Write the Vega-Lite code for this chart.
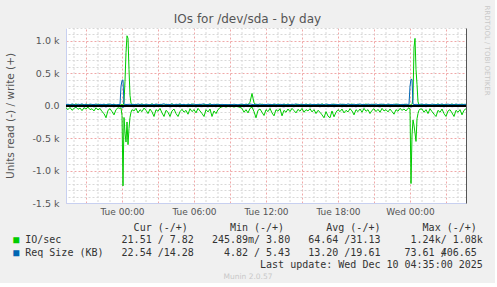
{
  "$schema": "https://vega.github.io/schema/vega-lite/v6.json",
  "background": "#f0f0f0",
  "padding": {"left": 5, "top": 5, "right": 5, "bottom": 0},
  "title": {"text": "IOs for /dev/sda - by day", "font": "DejaVu Sans", "fontSize": 12, "fontWeight": "normal", "color": "#555555", "anchor": "middle", "frame": "bounds", "offset": -21},
  "config": {"view": {"stroke": null}, "font": "DejaVu Sans"},
  "spacing": 6,
  "vconcat": [
    {
      "width": 400,
      "height": 175,
      "view": {"fill": "#ffffff", "stroke": null},
      "data": {"values": [
        {"t":"2025-12-08T19:20","ior":-30,"iow":12,"rsr":-8,"rsw":18},
        {"t":"2025-12-08T19:30","ior":-60,"iow":20,"rsr":-12,"rsw":24},
        {"t":"2025-12-08T19:40","ior":-25,"iow":8,"rsr":-6,"rsw":15},
        {"t":"2025-12-08T19:50","ior":-70,"iow":25,"rsr":-15,"rsw":27},
        {"t":"2025-12-08T20:00","ior":-40,"iow":15,"rsr":-10,"rsw":20},
        {"t":"2025-12-08T20:10","ior":-20,"iow":30,"rsr":-18,"rsw":13},
        {"t":"2025-12-08T20:20","ior":-55,"iow":10,"rsr":-7,"rsw":25},
        {"t":"2025-12-08T20:30","ior":-35,"iow":18,"rsr":-13,"rsw":19},
        {"t":"2025-12-08T20:40","ior":-75,"iow":22,"rsr":-9,"rsw":29},
        {"t":"2025-12-08T20:50","ior":-30,"iow":6,"rsr":-16,"rsw":16},
        {"t":"2025-12-08T21:00","ior":-50,"iow":28,"rsr":-11,"rsw":22},
        {"t":"2025-12-08T21:10","ior":-20,"iow":14,"rsr":-5,"rsw":14},
        {"t":"2025-12-08T21:20","ior":-60,"iow":19,"rsr":-14,"rsw":26},
        {"t":"2025-12-08T21:30","ior":-45,"iow":9,"rsr":-8,"rsw":21},
        {"t":"2025-12-08T21:40","ior":-80,"iow":24,"rsr":-17,"rsw":17},
        {"t":"2025-12-08T21:50","ior":-30,"iow":11,"rsr":-10,"rsw":28},
        {"t":"2025-12-08T22:00","ior":-65,"iow":27,"rsr":-6,"rsw":15},
        {"t":"2025-12-08T22:10","ior":-40,"iow":16,"rsr":-12,"rsw":23},
        {"t":"2025-12-08T22:20","ior":-90,"iow":7,"rsr":-15,"rsw":19},
        {"t":"2025-12-08T22:30","ior":-120,"iow":21,"rsr":-9,"rsw":25},
        {"t":"2025-12-08T22:40","ior":-185,"iow":13,"rsr":-19,"rsw":16},
        {"t":"2025-12-08T22:50","ior":-70,"iow":26,"rsr":-7,"rsw":22},
        {"t":"2025-12-08T23:00","ior":-45,"iow":10,"rsr":-13,"rsw":27},
        {"t":"2025-12-08T23:10","ior":-90,"iow":18,"rsr":-10,"rsw":18},
        {"t":"2025-12-08T23:20","ior":-140,"iow":23,"rsr":-16,"rsw":24},
        {"t":"2025-12-08T23:30","ior":-60,"iow":8,"rsr":-8,"rsw":14},
        {"t":"2025-12-08T23:40","ior":-30,"iow":15,"rsr":-12,"rsw":20},
        {"t":"2025-12-08T23:50","ior":-40,"iow":10,"rsr":-9,"rsw":20},
        {"t":"2025-12-08T23:55","ior":-30,"iow":15,"rsr":-12,"rsw":300},
        {"t":"2025-12-09T00:00","ior":-150,"iow":20,"rsr":-20,"rsw":390},
        {"t":"2025-12-09T00:05","ior":-1236,"iow":10,"rsr":-25,"rsw":400},
        {"t":"2025-12-09T00:10","ior":-180,"iow":60,"rsr":-15,"rsw":25},
        {"t":"2025-12-09T00:15","ior":-420,"iow":380,"rsr":-10,"rsw":20},
        {"t":"2025-12-09T00:20","ior":-560,"iow":820,"rsr":-14,"rsw":22},
        {"t":"2025-12-09T00:25","ior":-250,"iow":1080,"rsr":-8,"rsw":18},
        {"t":"2025-12-09T00:30","ior":-600,"iow":1040,"rsr":-12,"rsw":24},
        {"t":"2025-12-09T00:35","ior":-350,"iow":560,"rsr":-9,"rsw":19},
        {"t":"2025-12-09T00:40","ior":-180,"iow":160,"rsr":-13,"rsw":26},
        {"t":"2025-12-09T00:45","ior":-100,"iow":40,"rsr":-7,"rsw":17},
        {"t":"2025-12-09T00:50","ior":-60,"iow":20,"rsr":-11,"rsw":23},
        {"t":"2025-12-09T01:00","ior":-80,"iow":14,"rsr":-15,"rsw":21},
        {"t":"2025-12-09T01:10","ior":-40,"iow":25,"rsr":-8,"rsw":16},
        {"t":"2025-12-09T01:20","ior":-110,"iow":9,"rsr":-12,"rsw":28},
        {"t":"2025-12-09T01:30","ior":-60,"iow":19,"rsr":-6,"rsw":19},
        {"t":"2025-12-09T01:40","ior":-90,"iow":27,"rsr":-14,"rsw":24},
        {"t":"2025-12-09T01:50","ior":-35,"iow":12,"rsr":-10,"rsw":15},
        {"t":"2025-12-09T02:00","ior":-70,"iow":22,"rsr":-17,"rsw":26},
        {"t":"2025-12-09T02:10","ior":-120,"iow":8,"rsr":-9,"rsw":20},
        {"t":"2025-12-09T02:20","ior":-50,"iow":17,"rsr":-13,"rsw":14},
        {"t":"2025-12-09T02:30","ior":-95,"iow":29,"rsr":-7,"rsw":25},
        {"t":"2025-12-09T02:40","ior":-165,"iow":13,"rsr":-16,"rsw":18},
        {"t":"2025-12-09T02:50","ior":-60,"iow":21,"rsr":-10,"rsw":27},
        {"t":"2025-12-09T03:00","ior":-85,"iow":10,"rsr":-12,"rsw":21},
        {"t":"2025-12-09T03:10","ior":-40,"iow":24,"rsr":-6,"rsw":16},
        {"t":"2025-12-09T03:20","ior":-110,"iow":15,"rsr":-15,"rsw":23},
        {"t":"2025-12-09T03:30","ior":-165,"iow":7,"rsr":-9,"rsw":30},
        {"t":"2025-12-09T03:40","ior":-70,"iow":26,"rsr":-13,"rsw":17},
        {"t":"2025-12-09T03:50","ior":-100,"iow":12,"rsr":-8,"rsw":22},
        {"t":"2025-12-09T04:00","ior":-165,"iow":18,"rsr":-18,"rsw":19},
        {"t":"2025-12-09T04:10","ior":-80,"iow":30,"rsr":-11,"rsw":26},
        {"t":"2025-12-09T04:20","ior":-50,"iow":9,"rsr":-7,"rsw":15},
        {"t":"2025-12-09T04:30","ior":-120,"iow":20,"rsr":-14,"rsw":24},
        {"t":"2025-12-09T04:40","ior":-165,"iow":14,"rsr":-10,"rsw":20},
        {"t":"2025-12-09T04:50","ior":-90,"iow":25,"rsr":-16,"rsw":28},
        {"t":"2025-12-09T05:00","ior":-55,"iow":11,"rsr":-8,"rsw":17},
        {"t":"2025-12-09T05:10","ior":-100,"iow":19,"rsr":-12,"rsw":23},
        {"t":"2025-12-09T05:20","ior":-70,"iow":8,"rsr":-9,"rsw":14},
        {"t":"2025-12-09T05:30","ior":-130,"iow":23,"rsr":-15,"rsw":25},
        {"t":"2025-12-09T05:40","ior":-45,"iow":16,"rsr":-6,"rsw":19},
        {"t":"2025-12-09T05:50","ior":-90,"iow":28,"rsr":-13,"rsw":21},
        {"t":"2025-12-09T06:00","ior":-60,"iow":10,"rsr":-10,"rsw":27},
        {"t":"2025-12-09T06:10","ior":-110,"iow":21,"rsr":-17,"rsw":16},
        {"t":"2025-12-09T06:20","ior":-40,"iow":13,"rsr":-8,"rsw":22},
        {"t":"2025-12-09T06:30","ior":-80,"iow":26,"rsr":-12,"rsw":18},
        {"t":"2025-12-09T06:40","ior":-120,"iow":9,"rsr":-14,"rsw":24},
        {"t":"2025-12-09T06:50","ior":-165,"iow":17,"rsr":-9,"rsw":29},
        {"t":"2025-12-09T07:00","ior":-60,"iow":22,"rsr":-11,"rsw":15},
        {"t":"2025-12-09T07:10","ior":-95,"iow":12,"rsr":-16,"rsw":20},
        {"t":"2025-12-09T07:20","ior":-50,"iow":29,"rsr":-7,"rsw":26},
        {"t":"2025-12-09T07:30","ior":-165,"iow":15,"rsr":-13,"rsw":17},
        {"t":"2025-12-09T07:40","ior":-80,"iow":8,"rsr":-10,"rsw":23},
        {"t":"2025-12-09T07:50","ior":-120,"iow":24,"rsr":-15,"rsw":19},
        {"t":"2025-12-09T08:00","ior":-60,"iow":14,"rsr":-8,"rsw":25},
        {"t":"2025-12-09T08:10","ior":-30,"iow":19,"rsr":-12,"rsw":16},
        {"t":"2025-12-09T08:20","ior":-15,"iow":10,"rsr":-6,"rsw":22},
        {"t":"2025-12-09T08:30","ior":-10,"iow":16,"rsr":-9,"rsw":18},
        {"t":"2025-12-09T08:40","ior":-20,"iow":12,"rsr":-7,"rsw":20},
        {"t":"2025-12-09T08:50","ior":-10,"iow":18,"rsr":-10,"rsw":15},
        {"t":"2025-12-09T09:00","ior":-15,"iow":9,"rsr":-6,"rsw":21},
        {"t":"2025-12-09T09:10","ior":-10,"iow":14,"rsr":-8,"rsw":17},
        {"t":"2025-12-09T09:20","ior":-20,"iow":11,"rsr":-11,"rsw":24},
        {"t":"2025-12-09T09:30","ior":-10,"iow":17,"rsr":-7,"rsw":19},
        {"t":"2025-12-09T09:40","ior":-15,"iow":8,"rsr":-9,"rsw":16},
        {"t":"2025-12-09T09:50","ior":-25,"iow":15,"rsr":-12,"rsw":22},
        {"t":"2025-12-09T10:00","ior":-40,"iow":20,"rsr":-10,"rsw":26},
        {"t":"2025-12-09T10:10","ior":-100,"iow":12,"rsr":-15,"rsw":18},
        {"t":"2025-12-09T10:20","ior":-60,"iow":25,"rsr":-8,"rsw":23},
        {"t":"2025-12-09T10:30","ior":-110,"iow":14,"rsr":-13,"rsw":20},
        {"t":"2025-12-09T10:40","ior":-40,"iow":55,"rsr":-9,"rsw":27},
        {"t":"2025-12-09T10:50","ior":-20,"iow":190,"rsr":-11,"rsw":21},
        {"t":"2025-12-09T11:00","ior":-90,"iow":45,"rsr":-14,"rsw":17},
        {"t":"2025-12-09T11:10","ior":-185,"iow":16,"rsr":-8,"rsw":24},
        {"t":"2025-12-09T11:20","ior":-70,"iow":22,"rsr":-16,"rsw":19},
        {"t":"2025-12-09T11:30","ior":-50,"iow":10,"rsr":-10,"rsw":28},
        {"t":"2025-12-09T11:40","ior":-100,"iow":27,"rsr":-12,"rsw":15},
        {"t":"2025-12-09T11:50","ior":-150,"iow":13,"rsr":-7,"rsw":22},
        {"t":"2025-12-09T12:00","ior":-60,"iow":19,"rsr":-13,"rsw":18},
        {"t":"2025-12-09T12:10","ior":-90,"iow":8,"rsr":-9,"rsw":25},
        {"t":"2025-12-09T12:20","ior":-40,"iow":24,"rsr":-15,"rsw":20},
        {"t":"2025-12-09T12:30","ior":-110,"iow":15,"rsr":-11,"rsw":16},
        {"t":"2025-12-09T12:40","ior":-155,"iow":21,"rsr":-8,"rsw":27},
        {"t":"2025-12-09T12:50","ior":-60,"iow":11,"rsr":-14,"rsw":21},
        {"t":"2025-12-09T13:00","ior":-85,"iow":28,"rsr":-10,"rsw":17},
        {"t":"2025-12-09T13:10","ior":-45,"iow":14,"rsr":-6,"rsw":23},
        {"t":"2025-12-09T13:20","ior":-155,"iow":9,"rsr":-12,"rsw":19},
        {"t":"2025-12-09T13:30","ior":-70,"iow":23,"rsr":-16,"rsw":26},
        {"t":"2025-12-09T13:40","ior":-100,"iow":17,"rsr":-9,"rsw":14},
        {"t":"2025-12-09T13:50","ior":-50,"iow":26,"rsr":-13,"rsw":22},
        {"t":"2025-12-09T14:00","ior":-90,"iow":12,"rsr":-8,"rsw":18},
        {"t":"2025-12-09T14:10","ior":-40,"iow":20,"rsr":-11,"rsw":24},
        {"t":"2025-12-09T14:20","ior":-75,"iow":7,"rsr":-15,"rsw":20},
        {"t":"2025-12-09T14:30","ior":-110,"iow":18,"rsr":-7,"rsw":29},
        {"t":"2025-12-09T14:40","ior":-55,"iow":25,"rsr":-12,"rsw":16},
        {"t":"2025-12-09T14:50","ior":-85,"iow":13,"rsr":-10,"rsw":21},
        {"t":"2025-12-09T15:00","ior":-40,"iow":22,"rsr":-14,"rsw":25},
        {"t":"2025-12-09T15:10","ior":-100,"iow":10,"rsr":-8,"rsw":18},
        {"t":"2025-12-09T15:20","ior":-60,"iow":27,"rsr":-13,"rsw":23},
        {"t":"2025-12-09T15:30","ior":-80,"iow":15,"rsr":-9,"rsw":15},
        {"t":"2025-12-09T15:40","ior":-45,"iow":19,"rsr":-16,"rsw":27},
        {"t":"2025-12-09T15:50","ior":-95,"iow":8,"rsr":-11,"rsw":19},
        {"t":"2025-12-09T16:00","ior":-60,"iow":24,"rsr":-7,"rsw":22},
        {"t":"2025-12-09T16:10","ior":-120,"iow":14,"rsr":-12,"rsw":17},
        {"t":"2025-12-09T16:20","ior":-70,"iow":21,"rsr":-10,"rsw":26},
        {"t":"2025-12-09T16:30","ior":-100,"iow":11,"rsr":-15,"rsw":20},
        {"t":"2025-12-09T16:40","ior":-140,"iow":29,"rsr":-8,"rsw":24},
        {"t":"2025-12-09T16:50","ior":-185,"iow":16,"rsr":-13,"rsw":16},
        {"t":"2025-12-09T17:00","ior":-90,"iow":12,"rsr":-9,"rsw":28},
        {"t":"2025-12-09T17:10","ior":-160,"iow":23,"rsr":-14,"rsw":21},
        {"t":"2025-12-09T17:20","ior":-185,"iow":9,"rsr":-11,"rsw":18},
        {"t":"2025-12-09T17:30","ior":-80,"iow":18,"rsr":-7,"rsw":25},
        {"t":"2025-12-09T17:40","ior":-170,"iow":26,"rsr":-16,"rsw":19},
        {"t":"2025-12-09T17:50","ior":-100,"iow":13,"rsr":-10,"rsw":23},
        {"t":"2025-12-09T18:00","ior":-60,"iow":20,"rsr":-12,"rsw":15},
        {"t":"2025-12-09T18:10","ior":-90,"iow":10,"rsr":-8,"rsw":26},
        {"t":"2025-12-09T18:20","ior":-50,"iow":25,"rsr":-15,"rsw":20},
        {"t":"2025-12-09T18:30","ior":-110,"iow":15,"rsr":-9,"rsw":24},
        {"t":"2025-12-09T18:40","ior":-70,"iow":22,"rsr":-13,"rsw":17},
        {"t":"2025-12-09T18:50","ior":-95,"iow":8,"rsr":-11,"rsw":29},
        {"t":"2025-12-09T19:00","ior":-45,"iow":19,"rsr":-7,"rsw":21},
        {"t":"2025-12-09T19:10","ior":-80,"iow":27,"rsr":-14,"rsw":18},
        {"t":"2025-12-09T19:20","ior":-140,"iow":12,"rsr":-10,"rsw":25},
        {"t":"2025-12-09T19:30","ior":-60,"iow":17,"rsr":-16,"rsw":16},
        {"t":"2025-12-09T19:40","ior":-90,"iow":24,"rsr":-8,"rsw":22},
        {"t":"2025-12-09T19:50","ior":-50,"iow":9,"rsr":-12,"rsw":27},
        {"t":"2025-12-09T20:00","ior":-100,"iow":21,"rsr":-9,"rsw":19},
        {"t":"2025-12-09T20:10","ior":-40,"iow":14,"rsr":-15,"rsw":23},
        {"t":"2025-12-09T20:20","ior":-85,"iow":28,"rsr":-11,"rsw":15},
        {"t":"2025-12-09T20:30","ior":-60,"iow":11,"rsr":-7,"rsw":26},
        {"t":"2025-12-09T20:40","ior":-120,"iow":20,"rsr":-13,"rsw":20},
        {"t":"2025-12-09T20:50","ior":-70,"iow":16,"rsr":-10,"rsw":24},
        {"t":"2025-12-09T21:00","ior":-45,"iow":25,"rsr":-14,"rsw":18},
        {"t":"2025-12-09T21:10","ior":-90,"iow":10,"rsr":-8,"rsw":28},
        {"t":"2025-12-09T21:20","ior":-55,"iow":18,"rsr":-12,"rsw":17},
        {"t":"2025-12-09T21:30","ior":-100,"iow":23,"rsr":-16,"rsw":22},
        {"t":"2025-12-09T21:40","ior":-40,"iow":13,"rsr":-9,"rsw":25},
        {"t":"2025-12-09T21:50","ior":-80,"iow":26,"rsr":-11,"rsw":19},
        {"t":"2025-12-09T22:00","ior":-60,"iow":8,"rsr":-13,"rsw":16},
        {"t":"2025-12-09T22:10","ior":-95,"iow":19,"rsr":-7,"rsw":27},
        {"t":"2025-12-09T22:20","ior":-50,"iow":15,"rsr":-15,"rsw":21},
        {"t":"2025-12-09T22:30","ior":-90,"iow":22,"rsr":-10,"rsw":18},
        {"t":"2025-12-09T22:40","ior":-130,"iow":12,"rsr":-12,"rsw":24},
        {"t":"2025-12-09T22:50","ior":-60,"iow":27,"rsr":-8,"rsw":20},
        {"t":"2025-12-09T23:00","ior":-85,"iow":14,"rsr":-14,"rsw":26},
        {"t":"2025-12-09T23:10","ior":-40,"iow":20,"rsr":-9,"rsw":15},
        {"t":"2025-12-09T23:20","ior":-70,"iow":10,"rsr":-11,"rsw":22},
        {"t":"2025-12-09T23:30","ior":-50,"iow":24,"rsr":-16,"rsw":19},
        {"t":"2025-12-09T23:40","ior":-80,"iow":16,"rsr":-10,"rsw":25},
        {"t":"2025-12-09T23:50","ior":-40,"iow":10,"rsr":-12,"rsw":20},
        {"t":"2025-12-09T23:55","ior":-30,"iow":10,"rsr":-9,"rsw":22},
        {"t":"2025-12-10T00:00","ior":-60,"iow":15,"rsr":-15,"rsw":300},
        {"t":"2025-12-10T00:05","ior":-1200,"iow":10,"rsr":-20,"rsw":410},
        {"t":"2025-12-10T00:10","ior":-450,"iow":20,"rsr":-14,"rsw":405},
        {"t":"2025-12-10T00:15","ior":-220,"iow":120,"rsr":-10,"rsw":25},
        {"t":"2025-12-10T00:20","ior":-300,"iow":900,"rsr":-13,"rsw":21},
        {"t":"2025-12-10T00:25","ior":-420,"iow":1040,"rsr":-8,"rsw":18},
        {"t":"2025-12-10T00:30","ior":-550,"iow":560,"rsr":-12,"rsw":24},
        {"t":"2025-12-10T00:35","ior":-200,"iow":330,"rsr":-9,"rsw":19},
        {"t":"2025-12-10T00:40","ior":-120,"iow":60,"rsr":-14,"rsw":23},
        {"t":"2025-12-10T00:45","ior":-70,"iow":20,"rsr":-11,"rsw":16},
        {"t":"2025-12-10T00:50","ior":-50,"iow":15,"rsr":-8,"rsw":22},
        {"t":"2025-12-10T01:00","ior":-50,"iow":21,"rsr":-13,"rsw":27},
        {"t":"2025-12-10T01:10","ior":-100,"iow":12,"rsr":-10,"rsw":18},
        {"t":"2025-12-10T01:20","ior":-60,"iow":25,"rsr":-15,"rsw":24},
        {"t":"2025-12-10T01:30","ior":-120,"iow":14,"rsr":-8,"rsw":20},
        {"t":"2025-12-10T01:40","ior":-45,"iow":19,"rsr":-12,"rsw":15},
        {"t":"2025-12-10T01:50","ior":-90,"iow":9,"rsr":-9,"rsw":26},
        {"t":"2025-12-10T02:00","ior":-130,"iow":23,"rsr":-14,"rsw":21},
        {"t":"2025-12-10T02:10","ior":-165,"iow":16,"rsr":-11,"rsw":17},
        {"t":"2025-12-10T02:20","ior":-70,"iow":28,"rsr":-7,"rsw":23},
        {"t":"2025-12-10T02:30","ior":-100,"iow":11,"rsr":-13,"rsw":19},
        {"t":"2025-12-10T02:40","ior":-50,"iow":20,"rsr":-10,"rsw":28},
        {"t":"2025-12-10T02:50","ior":-120,"iow":15,"rsr":-16,"rsw":16},
        {"t":"2025-12-10T03:00","ior":-165,"iow":24,"rsr":-9,"rsw":22},
        {"t":"2025-12-10T03:10","ior":-80,"iow":8,"rsr":-12,"rsw":25},
        {"t":"2025-12-10T03:20","ior":-60,"iow":18,"rsr":-8,"rsw":19},
        {"t":"2025-12-10T03:30","ior":-110,"iow":26,"rsr":-14,"rsw":24},
        {"t":"2025-12-10T03:40","ior":-165,"iow":13,"rsr":-11,"rsw":17},
        {"t":"2025-12-10T03:50","ior":-70,"iow":21,"rsr":-10,"rsw":27},
        {"t":"2025-12-10T04:00","ior":-100,"iow":10,"rsr":-15,"rsw":20},
        {"t":"2025-12-10T04:10","ior":-60,"iow":17,"rsr":-8,"rsw":23},
        {"t":"2025-12-10T04:20","ior":-140,"iow":27,"rsr":-12,"rsw":18},
        {"t":"2025-12-10T04:30","ior":-70,"iow":14,"rsr":-9,"rsw":22},
        {"t":"2025-12-10T04:40","ior":-45,"iow":21,"rsr":-13,"rsw":23}
      ]},
      "layer": [
        {
          "layer": [
            {
              "data": {"values": [
                {"t": "2025-12-08T20:00"}, {"t": "2025-12-08T22:00"}, {"t": "2025-12-08T23:00"},
                {"t": "2025-12-09T01:00"}, {"t": "2025-12-09T02:00"}, {"t": "2025-12-09T04:00"}, {"t": "2025-12-09T05:00"},
                {"t": "2025-12-09T07:00"}, {"t": "2025-12-09T08:00"}, {"t": "2025-12-09T10:00"}, {"t": "2025-12-09T11:00"},
                {"t": "2025-12-09T13:00"}, {"t": "2025-12-09T14:00"}, {"t": "2025-12-09T16:00"}, {"t": "2025-12-09T17:00"},
                {"t": "2025-12-09T19:00"}, {"t": "2025-12-09T20:00"}, {"t": "2025-12-09T22:00"}, {"t": "2025-12-09T23:00"},
                {"t": "2025-12-10T01:00"}, {"t": "2025-12-10T02:00"}, {"t": "2025-12-10T04:00"}
              ]},
              "mark": {"type": "rule", "color": "#d8d8d8", "strokeWidth": 1, "strokeDash": [2, 2]},
              "encoding": {"x": {"field": "t", "type": "temporal"}}
            },
            {
              "mark": {"type": "line", "color": "#00cc00", "strokeWidth": 1},
              "encoding": {
                "x": {"field": "t", "type": "temporal", "title": null,
                  "scale": {"domain": [{"year": 2025, "month": 12, "date": 8, "hours": 19, "minutes": 20}, {"year": 2025, "month": 12, "date": 10, "hours": 4, "minutes": 40}]},
                  "axis": {"orient": "bottom",
                    "values": [{"year": 2025, "month": 12, "date": 9, "hours": 0}, {"year": 2025, "month": 12, "date": 9, "hours": 6}, {"year": 2025, "month": 12, "date": 9, "hours": 12}, {"year": 2025, "month": 12, "date": 9, "hours": 18}, {"year": 2025, "month": 12, "date": 10, "hours": 0}],
                    "format": "%a %H:%M", "labelFlush": false, "labelFont": "DejaVu Sans", "labelFontSize": 9, "labelColor": "#555555", "labelPadding": 4,
                    "ticks": false, "domainColor": "#c8d0f0", "grid": true, "gridColor": "#f0a8a8", "gridDash": [2, 2], "gridWidth": 1}},
                "y": {"field": "ior", "type": "quantitative", "title": "Units read (-) / write (+)",
                  "scale": {"domain": [-1500, 1200], "nice": false, "zero": false},
                  "axis": {"orient": "left",
                    "labelExpr": "datum.value === 0 ? '0.0' : (datum.value < 0 ? '-' : '') + format(abs(datum.value) / 1000, '.1f') + ' k'",
                    "labelFlush": false, "labelFont": "DejaVu Sans", "labelFontSize": 9.5, "labelColor": "#555555", "labelPadding": 7,
                    "minExtent": 35, "maxExtent": 35,
                    "ticks": false, "domainColor": "#c8d0f0", "grid": true, "gridColor": "#f0a8a8", "gridDash": [2, 2], "gridWidth": 1,
                    "titleFont": "DejaVu Sans", "titleFontSize": 10.5, "titleFontWeight": "normal", "titleColor": "#555555", "titlePadding": 16}}
              }
            },
            {
              "mark": {"type": "line", "color": "#00cc00", "strokeWidth": 1},
              "encoding": {"x": {"field": "t", "type": "temporal"}, "y": {"field": "iow", "type": "quantitative"}}
            },
            {
              "mark": {"type": "line", "color": "#0066b3", "strokeWidth": 1},
              "encoding": {"x": {"field": "t", "type": "temporal"}, "y": {"field": "rsr", "type": "quantitative"}}
            },
            {
              "mark": {"type": "line", "color": "#0066b3", "strokeWidth": 1},
              "encoding": {"x": {"field": "t", "type": "temporal"}, "y": {"field": "rsw", "type": "quantitative"}}
            },
            {
              "mark": {"type": "rule", "color": "#000000", "strokeWidth": 1.5},
              "encoding": {"y": {"datum": 0}}
            }
          ]
        },
        {
          "mark": {"type": "line", "opacity": 0},
          "encoding": {
            "x": {"field": "t", "type": "temporal",
              "axis": {"orient": "top", "title": null, "labels": false, "ticks": false, "domain": false, "grid": true, "gridColor": "#f0a8a8", "gridDash": [2, 2], "gridWidth": 1,
                "values": [{"year": 2025, "month": 12, "date": 8, "hours": 21}, {"year": 2025, "month": 12, "date": 9, "hours": 3}, {"year": 2025, "month": 12, "date": 9, "hours": 9}, {"year": 2025, "month": 12, "date": 9, "hours": 15}, {"year": 2025, "month": 12, "date": 9, "hours": 21}, {"year": 2025, "month": 12, "date": 10, "hours": 3}]}},
            "y": {"field": "ior", "type": "quantitative",
              "axis": {"orient": "right", "labels": false, "ticks": false, "domain": true, "domainColor": "#555555", "grid": true, "gridColor": "#d8d8d8", "gridDash": [2, 2], "gridWidth": 1,
                "values": [-1400, -1300, -1200, -1100, -900, -800, -700, -600, -400, -300, -200, -100, 100, 200, 300, 400, 600, 700, 800, 900, 1100, 1200],
                "title": "RRDTOOL / TOBI OETIKER", "titleFont": "DejaVu Sans", "titleFontSize": 7, "titleFontWeight": "normal", "titleColor": "#c8c8c8",
                "titleAngle": 90, "titleAlign": "left", "titleBaseline": "middle", "titleX": 20, "titleY": -23}}
          }
        }
      ],
      "resolve": {"axis": {"x": "independent", "y": "independent"}}
    },
    {
      "width": 364,
      "height": 61,
      "layer": [
        {
          "data": {"values": [
            {"row": "hdr", "txt": "\u200b\u00a0\u00a0\u00a0\u00a0\u00a0\u00a0\u00a0\u00a0\u00a0\u00a0\u00a0\u00a0\u00a0\u00a0\u00a0\u00a0\u00a0\u00a0\u00a0\u00a0Cur (-/+)\u00a0\u00a0\u00a0\u00a0\u00a0\u00a0\u00a0Min (-/+)\u00a0\u00a0\u00a0\u00a0\u00a0\u00a0\u00a0Avg (-/+)\u00a0\u00a0\u00a0\u00a0\u00a0\u00a0\u00a0Max (-/+)\u00a0\u200b"},
            {"row": "io", "txt": "\u200b\u00a0\u00a0IO/sec\u00a0\u00a0\u00a0\u00a0\u00a0\u00a0\u00a0\u00a0\u00a0\u00a021.51 / 7.82\u00a0\u00a0\u00a0245.89m/ 3.80\u00a0\u00a0\u00a064.64 /31.13\u00a0\u00a0\u00a0\u00a0\u00a01.24k/ 1.08k"},
            {"row": "rs", "txt": "\u200b\u00a0\u00a0Req Size (KB)\u00a0\u00a0\u00a022.54 /14.28\u00a0\u00a0\u00a0\u00a0\u00a04.82 / 5.43\u00a0\u00a0\u00a013.20 /19.61\u00a0\u00a0\u00a0\u00a073.61 /06.65\u00a0\u200b"},
            {"row": "rs", "txt": "\u200b\u00a0\u00a0\u00a0\u00a0\u00a0\u00a0\u00a0\u00a0\u00a0\u00a0\u00a0\u00a0\u00a0\u00a0\u00a0\u00a0\u00a0\u00a0\u00a0\u00a0\u00a0\u00a0\u00a0\u00a0\u00a0\u00a0\u00a0\u00a0\u00a0\u00a0\u00a0\u00a0\u00a0\u00a0\u00a0\u00a0\u00a0\u00a0\u00a0\u00a0\u00a0\u00a0\u00a0\u00a0\u00a0\u00a0\u00a0\u00a0\u00a0\u00a0\u00a0\u00a0\u00a0\u00a0\u00a0\u00a0\u00a0\u00a0\u00a0\u00a0\u00a0\u00a0\u00a0\u00a0\u00a0\u00a0\u00a0\u00a0\u00a0\u00a0\u00a04\u00a0\u00a0\u00a0\u00a0\u00a0\u00a0\u200b"},
            {"row": "upd", "txt": "\u200b\u00a0\u00a0\u00a0\u00a0\u00a0\u00a0\u00a0\u00a0\u00a0\u00a0\u00a0\u00a0\u00a0\u00a0\u00a0\u00a0\u00a0\u00a0\u00a0\u00a0\u00a0\u00a0\u00a0\u00a0\u00a0\u00a0\u00a0\u00a0\u00a0\u00a0\u00a0\u00a0\u00a0\u00a0\u00a0\u00a0\u00a0\u00a0\u00a0\u00a0\u00a0Last update: Wed Dec 10 04:35:00 2025"}
          ]},
          "mark": {"type": "text", "font": "DejaVu Sans Mono", "fontSize": 10, "color": "#333333", "baseline": "middle"},
          "encoding": {
            "y": {"field": "row", "type": "ordinal", "scale": {"type": "point", "padding": 0.5, "domain": ["hdr", "io", "rs", "upd", "ver"]}, "axis": null},
            "text": {"field": "txt"}
          }
        },
        {
          "data": {"values": [
            {"row": "io", "series": "IO/sec", "txt": "\u25a0\u00a0\u00a0\u00a0\u00a0\u00a0\u00a0\u00a0\u00a0\u00a0\u00a0\u00a0\u00a0\u00a0\u00a0\u00a0\u00a0\u00a0\u00a0\u00a0\u00a0\u00a0\u00a0\u00a0\u00a0\u00a0\u00a0\u00a0\u00a0\u00a0\u00a0\u00a0\u00a0\u00a0\u00a0\u00a0\u00a0\u00a0\u00a0\u00a0\u00a0\u00a0\u00a0\u00a0\u00a0\u00a0\u00a0\u00a0\u00a0\u00a0\u00a0\u00a0\u00a0\u00a0\u00a0\u00a0\u00a0\u00a0\u00a0\u00a0\u00a0\u00a0\u00a0\u00a0\u00a0\u00a0\u00a0\u00a0\u00a0\u00a0\u00a0\u00a0\u00a0\u00a0\u00a0\u00a0\u00a0\u00a0\u200b"},
            {"row": "rs", "series": "Req Size (KB)", "txt": "\u25a0\u00a0\u00a0\u00a0\u00a0\u00a0\u00a0\u00a0\u00a0\u00a0\u00a0\u00a0\u00a0\u00a0\u00a0\u00a0\u00a0\u00a0\u00a0\u00a0\u00a0\u00a0\u00a0\u00a0\u00a0\u00a0\u00a0\u00a0\u00a0\u00a0\u00a0\u00a0\u00a0\u00a0\u00a0\u00a0\u00a0\u00a0\u00a0\u00a0\u00a0\u00a0\u00a0\u00a0\u00a0\u00a0\u00a0\u00a0\u00a0\u00a0\u00a0\u00a0\u00a0\u00a0\u00a0\u00a0\u00a0\u00a0\u00a0\u00a0\u00a0\u00a0\u00a0\u00a0\u00a0\u00a0\u00a0\u00a0\u00a0\u00a0\u00a0\u00a0\u00a0\u00a0\u00a0\u00a0\u00a0\u00a0\u200b"}
          ]},
          "mark": {"type": "text", "font": "DejaVu Sans Mono", "fontSize": 10, "baseline": "middle"},
          "encoding": {
            "y": {"field": "row", "type": "ordinal", "scale": {"type": "point", "padding": 0.5, "domain": ["hdr", "io", "rs", "upd", "ver"]}, "axis": null},
            "text": {"field": "txt"},
            "color": {"field": "series", "type": "nominal", "scale": {"domain": ["IO/sec", "Req Size (KB)"], "range": ["#00cc00", "#0066b3"]}, "legend": null}
          }
        },
        {
          "data": {"values": [{"row": "ver", "txt": "Munin 2.0.57"}]},
          "mark": {"type": "text", "font": "DejaVu Sans", "fontSize": 7.5, "color": "#c8c8c8", "baseline": "middle"},
          "encoding": {
            "y": {"field": "row", "type": "ordinal", "scale": {"type": "point", "padding": 0.5, "domain": ["hdr", "io", "rs", "upd", "ver"]}, "axis": null},
            "text": {"field": "txt"}
          }
        }
      ]
    }
  ]
}
